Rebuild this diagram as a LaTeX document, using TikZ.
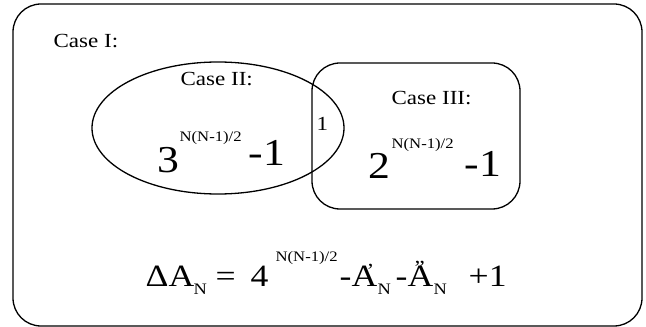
\documentclass[tikz,border=0pt]{standalone}
\usepackage{fontspec}
\setmainfont{Liberation Serif}[FakeStretch=1.15]

\tikzset{
  casetext/.style={inner sep=0pt, anchor=base west, font=\fontsize{20}{24}\selectfont},
  bignum/.style={inner sep=0pt, anchor=base west, font=\fontsize{38}{44}\selectfont},
  expo/.style={inner sep=0pt, anchor=base west, font=\fontsize{14.5}{17}\selectfont},
  eqtext/.style={inner sep=0pt, anchor=base west, font=\fontsize{31}{36}\selectfont},
  eqsub/.style={inner sep=0pt, anchor=base west, font=\fontsize{16}{19}\selectfont},
  eqmark/.style={inner sep=0pt, anchor=base west, font=\fontsize{20}{24}\selectfont}
}

\begin{document}
\begin{tikzpicture}[x=1pt, y=1pt, line width=1.3pt]
  \useasboundingbox (0,0) rectangle (646,327);

  % cornice e insiemi
  \draw[rounded corners=28pt] (13,1) rectangle (642,323);
  \draw (218,199) ellipse [x radius=126pt, y radius=66pt];
  \draw[rounded corners=28pt] (312,118) rectangle (520,264);

  % etichette dei casi
  \node[casetext] (caseA) at (53,279) {Case I:};
  \node[casetext] (caseB) at (180,241) {Case II:};
  \node[casetext] (caseC) at (391,222) {Case III:};
  \node[casetext] (both) at (316,196) {1};

  % conteggi nei due insiemi
  \node[bignum] (three) at (157,154) {3};
  \node[expo] (threeexp) at (179,185) {N(N-1)/2};
  \node[bignum] (threeminus) at (248,161) {-1};
  \node[bignum] (two) at (368,148) {2};
  \node[expo] (twoexp) at (391,178) {N(N-1)/2};
  \node[bignum] (twominus) at (464,150) {-1};

  % formula finale
  \node[eqtext] (delta) at (145,40) {ΔA};
  \node[eqsub] (deltasub) at (193,32) {N};
  \node[eqtext] (equals) at (215,40) {=};
  \node[eqtext] (four) at (250,40) {4};
  \node[expo] (fourexp) at (275,65) {N(N-1)/2};
  \node[eqtext] (aone) at (339,40) {-A};
  \node[eqmark] (aonemark) at (366,49) {’};
  \node[eqsub] (aonesub) at (377,32) {N};
  \node[eqtext] (atwo) at (395,40) {-A};
  \node[eqmark] (atwomark) at (414,52) {”};
  \node[eqsub] (atwosub) at (433,32) {N};
  \node[eqtext] (plusone) at (468,40) {+1};
\end{tikzpicture}
\end{document}
